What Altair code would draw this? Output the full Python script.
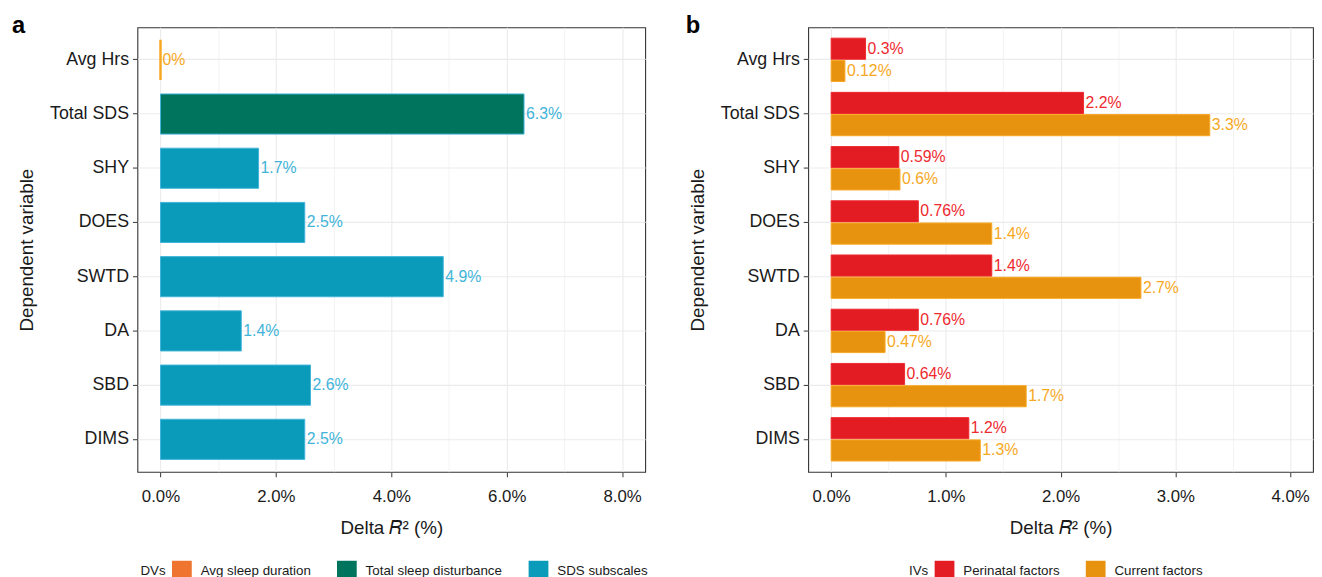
import altair as alt
import pandas as pd

FONT = "Liberation Sans"
TXT = "#1a1a1a"

# ---- data ----
dvs = ["Avg Hrs", "Total SDS", "SHY", "DOES", "SWTD", "DA", "SBD", "DIMS"]

# panel a
a_values = [0, 6.3, 1.7, 2.5, 4.9, 1.4, 2.6, 2.5]
a_groups = ["Avg sleep duration", "Total sleep disturbance", "SDS subscales", "SDS subscales",
            "SDS subscales", "SDS subscales", "SDS subscales", "SDS subscales"]
dv_legend = ["Avg sleep duration", "Total sleep disturbance", "SDS subscales"]
dv_colors = ["#EE7430", "#00745D", "#0A9BBB"]

# panel b
iv_groups = ["Perinatal factors", "Current factors"]
iv_colors = ["#E31B23", "#E8930F"]
b_perinatal = [0.3, 2.2, 0.59, 0.76, 1.4, 0.76, 0.64, 1.2]
b_current = [0.12, 3.3, 0.6, 1.4, 2.7, 0.47, 1.7, 1.3]

a_ticks = [0, 1, 2, 3, 4, 5, 6, 7, 8]
b_ticks = [0, 0.5, 1, 1.5, 2, 2.5, 3, 3.5, 4]

df_a = pd.DataFrame({"dv": dvs, "value": a_values, "group": a_groups})
df_b = pd.DataFrame({
    "dv": dvs + dvs,
    "group": [iv_groups[0]] * len(dvs) + [iv_groups[1]] * len(dvs),
    "value": b_perinatal + b_current,
})

X_TITLE = "Delta \U0001D445\u00b2 (%)"


def x_axis(values, major):
    return alt.Axis(
        values=values,
        labelExpr=f"({major}) ? format(datum.value, '.1f') + '%' : ''",
        title=X_TITLE, grid=True, gridColor="#EBEBEB",
        gridWidth={"condition": {"test": major, "value": 1.1}, "value": 0.6},
        tickOpacity={"condition": {"test": major, "value": 1}, "value": 0},
        domain=False, tickColor="#333333", tickSize=5, tickWidth=1,
        labelFontSize=17, labelColor=TXT, labelPadding=12, labelFont=FONT,
        titleFontSize=19, titleFontWeight="normal", titleColor=TXT, titlePadding=14, titleFont=FONT,
    )


def y_axis():
    return alt.Axis(
        title="Dependent variable", grid=True, gridColor="#EBEBEB", gridWidth=1.1,
        domain=False, tickColor="#333333", tickSize=5, tickWidth=1,
        labelFontSize=18, labelColor=TXT, labelPadding=4, labelFont=FONT,
        titleFontSize=19, titleFontWeight="normal", titleColor=TXT, titlePadding=13, titleFont=FONT,
    )


def legend(title, lx, ly):
    return alt.Legend(
        title=title, orient="none", legendX=lx, legendY=ly, direction="horizontal",
        titleOrient="left", symbolType="square", symbolSize=400, symbolStrokeWidth=0,
        labelFontSize=13.5, titleFontSize=13.5, titleFontWeight="normal",
        labelFont=FONT, titleFont=FONT, labelColor=TXT, titleColor=TXT,
        columnPadding=26, labelOffset=9, titlePadding=6,
    )


LABEL = "format(datum.value, '.2~r') + '%'"

# ---- panel a ----
base_a = alt.Chart(df_a).transform_calculate(label=LABEL)
is_avg = alt.datum.dv == "Avg Hrs"
y_a = alt.Y("dv:N", sort=dvs, scale=alt.Scale(paddingInner=0.26, paddingOuter=0.23), axis=y_axis())
bars_a = base_a.mark_bar().encode(
    x=alt.X("value:Q", scale=alt.Scale(domain=[-0.4, 8.4], nice=False, zero=False),
            axis=x_axis(a_ticks, "datum.value % 2 === 0")),
    x2=alt.datum(0),
    y=y_a,
    color=alt.Color("group:N", scale=alt.Scale(domain=dv_legend, range=dv_colors),
                    legend=legend("DVs", 3, 540)),
    stroke=alt.condition(is_avg, alt.value("#F7A823"), alt.value("#42B4D9")),
    strokeWidth=alt.condition(is_avg, alt.value(2.5), alt.value(1)),
)
text_a = base_a.mark_text(align="left", baseline="middle", dx=2, fontSize=16, font=FONT).encode(
    x="value:Q",
    y=alt.Y("dv:N", sort=dvs),
    text="label:N",
    color=alt.condition(is_avg, alt.value("#F7A823"), alt.value("#42B4D9")),
)
tag_a = alt.Chart(pd.DataFrame({"panel": ["a"]})).mark_text(
    fontSize=24, fontWeight="bold", align="left", baseline="alphabetic", font=FONT, color="black"
).encode(text="panel:N", x=alt.value(-127), y=alt.value(6))
panel_a = alt.layer(bars_a, text_a, tag_a).properties(width=514, height=450)

# ---- panel b ----
base_b = alt.Chart(df_b).transform_calculate(label=LABEL)
y_b = alt.Y("dv:N", sort=dvs, scale=alt.Scale(paddingInner=0.2, paddingOuter=0.2), axis=y_axis())
yoff = alt.YOffset("group:N", sort=iv_groups, scale=alt.Scale(paddingInner=0.05, paddingOuter=0))
is_peri = alt.datum.group == "Perinatal factors"
bars_b = base_b.mark_bar(strokeWidth=1).encode(
    x=alt.X("value:Q", scale=alt.Scale(domain=[-0.2, 4.2], nice=False, zero=False),
            axis=x_axis(b_ticks, "datum.value % 1 === 0")),
    x2=alt.datum(0),
    y=y_b,
    yOffset=yoff,
    color=alt.Color("group:N", scale=alt.Scale(domain=iv_groups, range=iv_colors),
                    legend=legend("IVs", 102, 540)),
    stroke=alt.condition(is_peri, alt.value("#EE2A2F"), alt.value("#F7A823")),
)
text_b = base_b.mark_text(align="left", baseline="middle", dx=2, fontSize=16, font=FONT).encode(
    x="value:Q",
    y=alt.Y("dv:N", sort=dvs),
    yOffset=alt.YOffset("group:N", sort=iv_groups),
    text="label:N",
    color=alt.condition(is_peri, alt.value("#EE2A2F"), alt.value("#F7A823")),
)
tag_b = alt.Chart(pd.DataFrame({"panel": ["b"]})).mark_text(
    fontSize=24, fontWeight="bold", align="left", baseline="alphabetic", font=FONT, color="black"
).encode(text="panel:N", x=alt.value(-124), y=alt.value(6))
panel_b = alt.layer(bars_b, text_b, tag_b).properties(width=511, height=450)

chart = (
    alt.hconcat(panel_a, panel_b, spacing=36)
    .resolve_scale(color="independent", x="independent", y="independent")
    .properties(padding={"left": 3, "top": 2, "right": 0, "bottom": 0})
    .configure(font=FONT, background="white")
    .configure_view(stroke="#333333", strokeWidth=1.1)
)

chart.save("out.html", embed_options={"renderer": "svg", "actions": False})
